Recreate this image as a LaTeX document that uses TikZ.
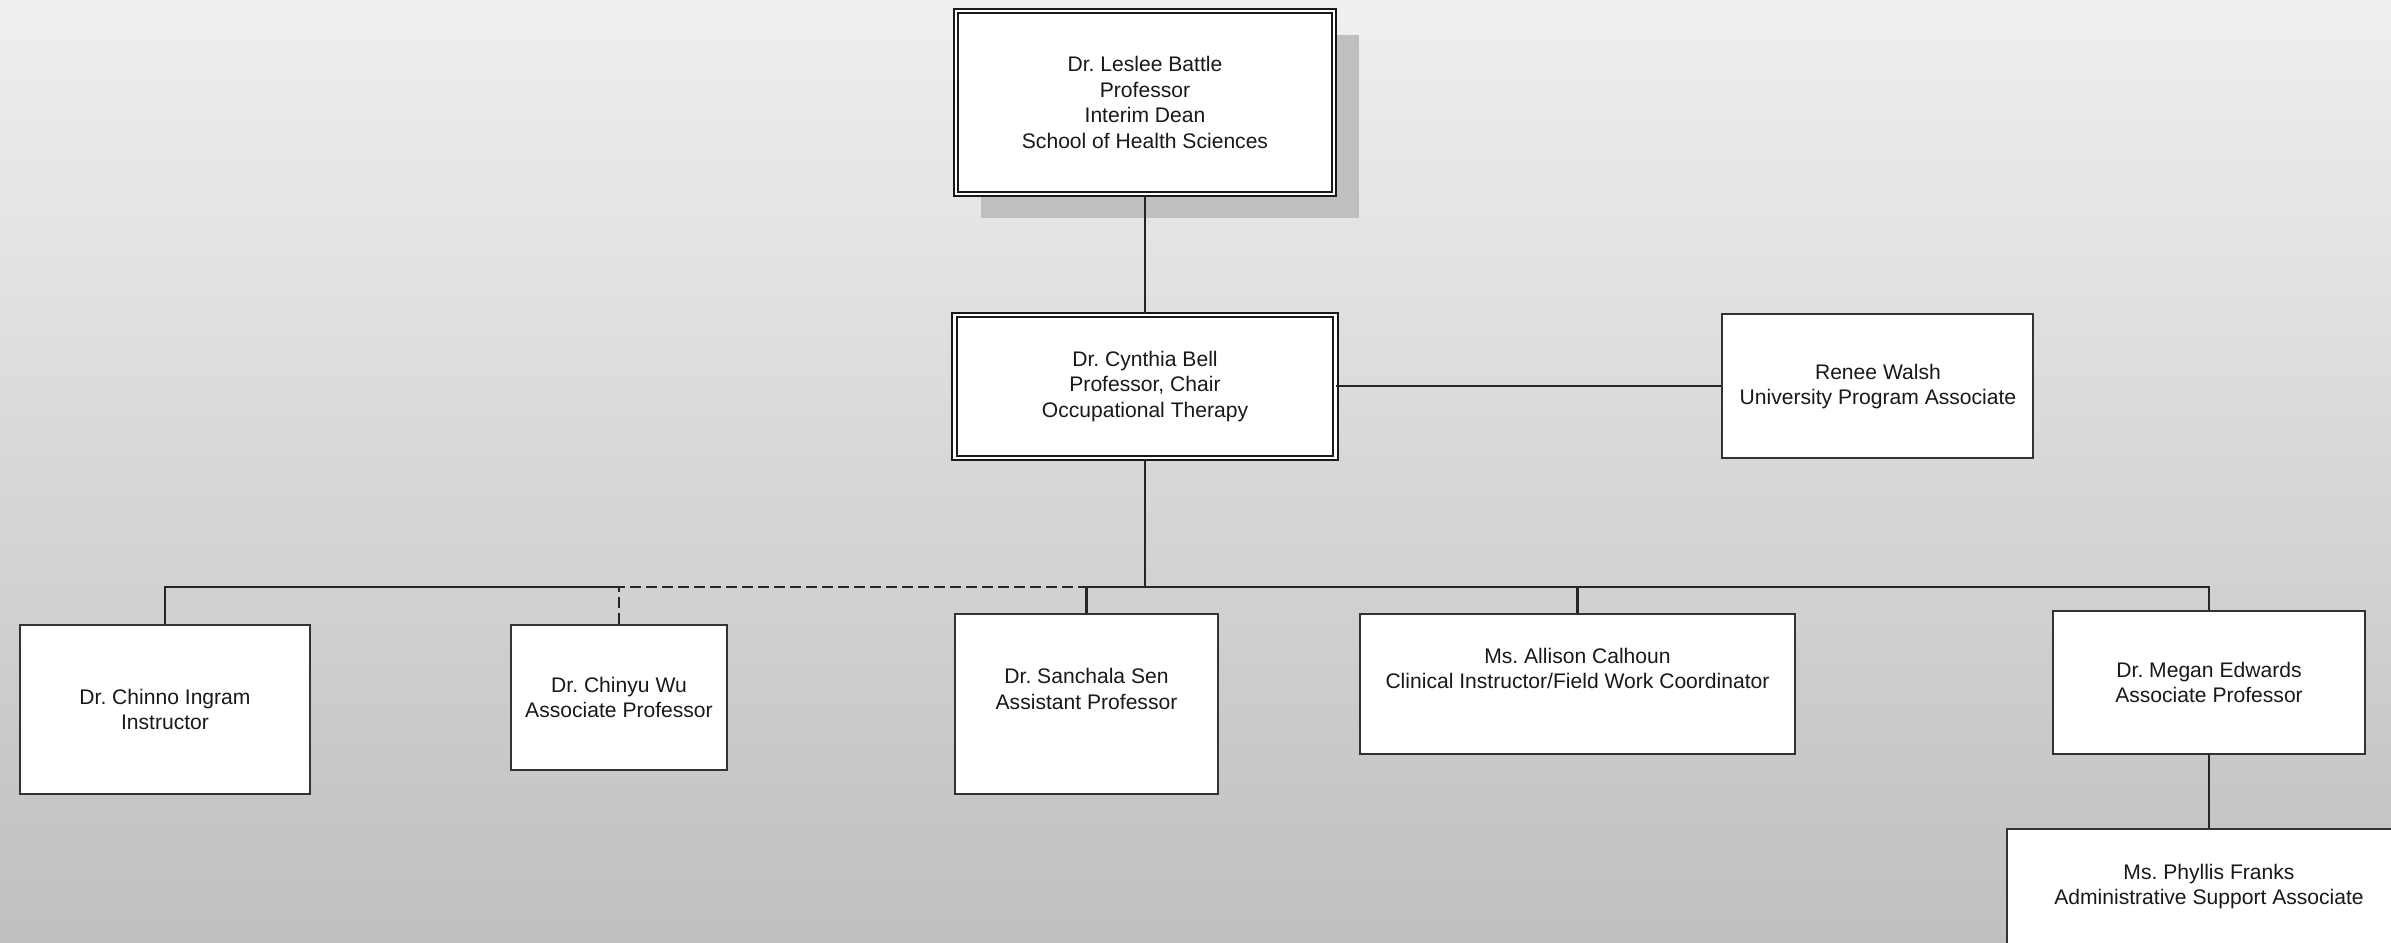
\documentclass[tikz,border=0pt]{standalone}
\usepackage{fontspec}
\setmainfont{Liberation Sans}
\usetikzlibrary{positioning,shadows}
\frenchspacing

\begin{document}
\begin{tikzpicture}[line width=1.2pt, draw=black!85,
    font=\fontsize{12}{14.5}\selectfont,
    box/.style={draw=black!80, fill=white, align=center, inner sep=0pt, text=black!90, line width=1.1pt},
    headBox/.style={box, draw=black!90, double=white, double distance=1.3pt, line width=1.1pt},
    dotLine/.style={dash pattern=on 0.22cm off 0.1cm}]
    \clip (0,0) rectangle (47.82,-18.86);
    \shade[top color=black!6, bottom color=black!25] (0,0) rectangle (47.82,-18.86);

    \node[headBox, minimum width=7.56cm, minimum height=3.66cm,
          drop shadow={shadow xshift=0.5cm, shadow yshift=-0.48cm, fill=black!25, opacity=1}]
          (dean) at (22.9,-2.05) {Dr. Leslee Battle\\Professor\\Interim Dean\\School of Health Sciences};
    \node[headBox, below=2.38cm of dean, minimum width=7.62cm, minimum height=2.86cm] (chair)
          {Dr. Cynthia Bell\\Professor, Chair\\Occupational Therapy};
    \node[box, right=7.7cm of chair, minimum width=6.22cm, minimum height=2.88cm] (progAssoc)
          {Renee Walsh\\University Program Associate};
    \coordinate[below=2.56cm of chair] (bus);

    \node[box, anchor=north, minimum width=5.8cm, minimum height=3.38cm] (ingram) at (3.3,-12.48)
          {Dr. Chinno Ingram\\Instructor};
    \node[box, anchor=north, minimum width=4.32cm, minimum height=2.9cm] (wu) at (12.38,-12.48)
          {Dr. Chinyu Wu\\Associate Professor};
    \node[box, anchor=north, minimum width=5.26cm, minimum height=3.6cm, text depth=0.6cm] (sen) at (21.73,-12.26)
          {Dr. Sanchala Sen\\Assistant Professor};
    \node[box, anchor=north, minimum width=8.7cm, minimum height=2.8cm, text depth=0.62cm] (calhoun) at (31.55,-12.26)
          {Ms. Allison Calhoun\\Clinical Instructor/Field Work Coordinator};
    \node[box, anchor=north, minimum width=6.24cm, minimum height=2.86cm] (edwards) at (44.18,-12.2)
          {Dr. Megan Edwards\\Associate Professor};
    \node[box, below=1.46cm of edwards, minimum width=8.08cm, minimum height=2.3cm] (franks)
          {Ms. Phyllis Franks\\Administrative Support Associate};

    \draw (dean) -- (chair);
    \draw (chair) -- (progAssoc);
    \draw (chair) -- (bus);
    \draw (ingram) |- (wu |- bus);
    \draw[dotLine] (wu) |- (sen |- bus);
    \draw (sen |- bus) -- (edwards |- bus) -- (edwards);
    \draw (sen) -- (sen |- bus);
    \draw (calhoun) -- (calhoun |- bus);
    \draw (edwards) -- (franks);
\end{tikzpicture}
\end{document}
